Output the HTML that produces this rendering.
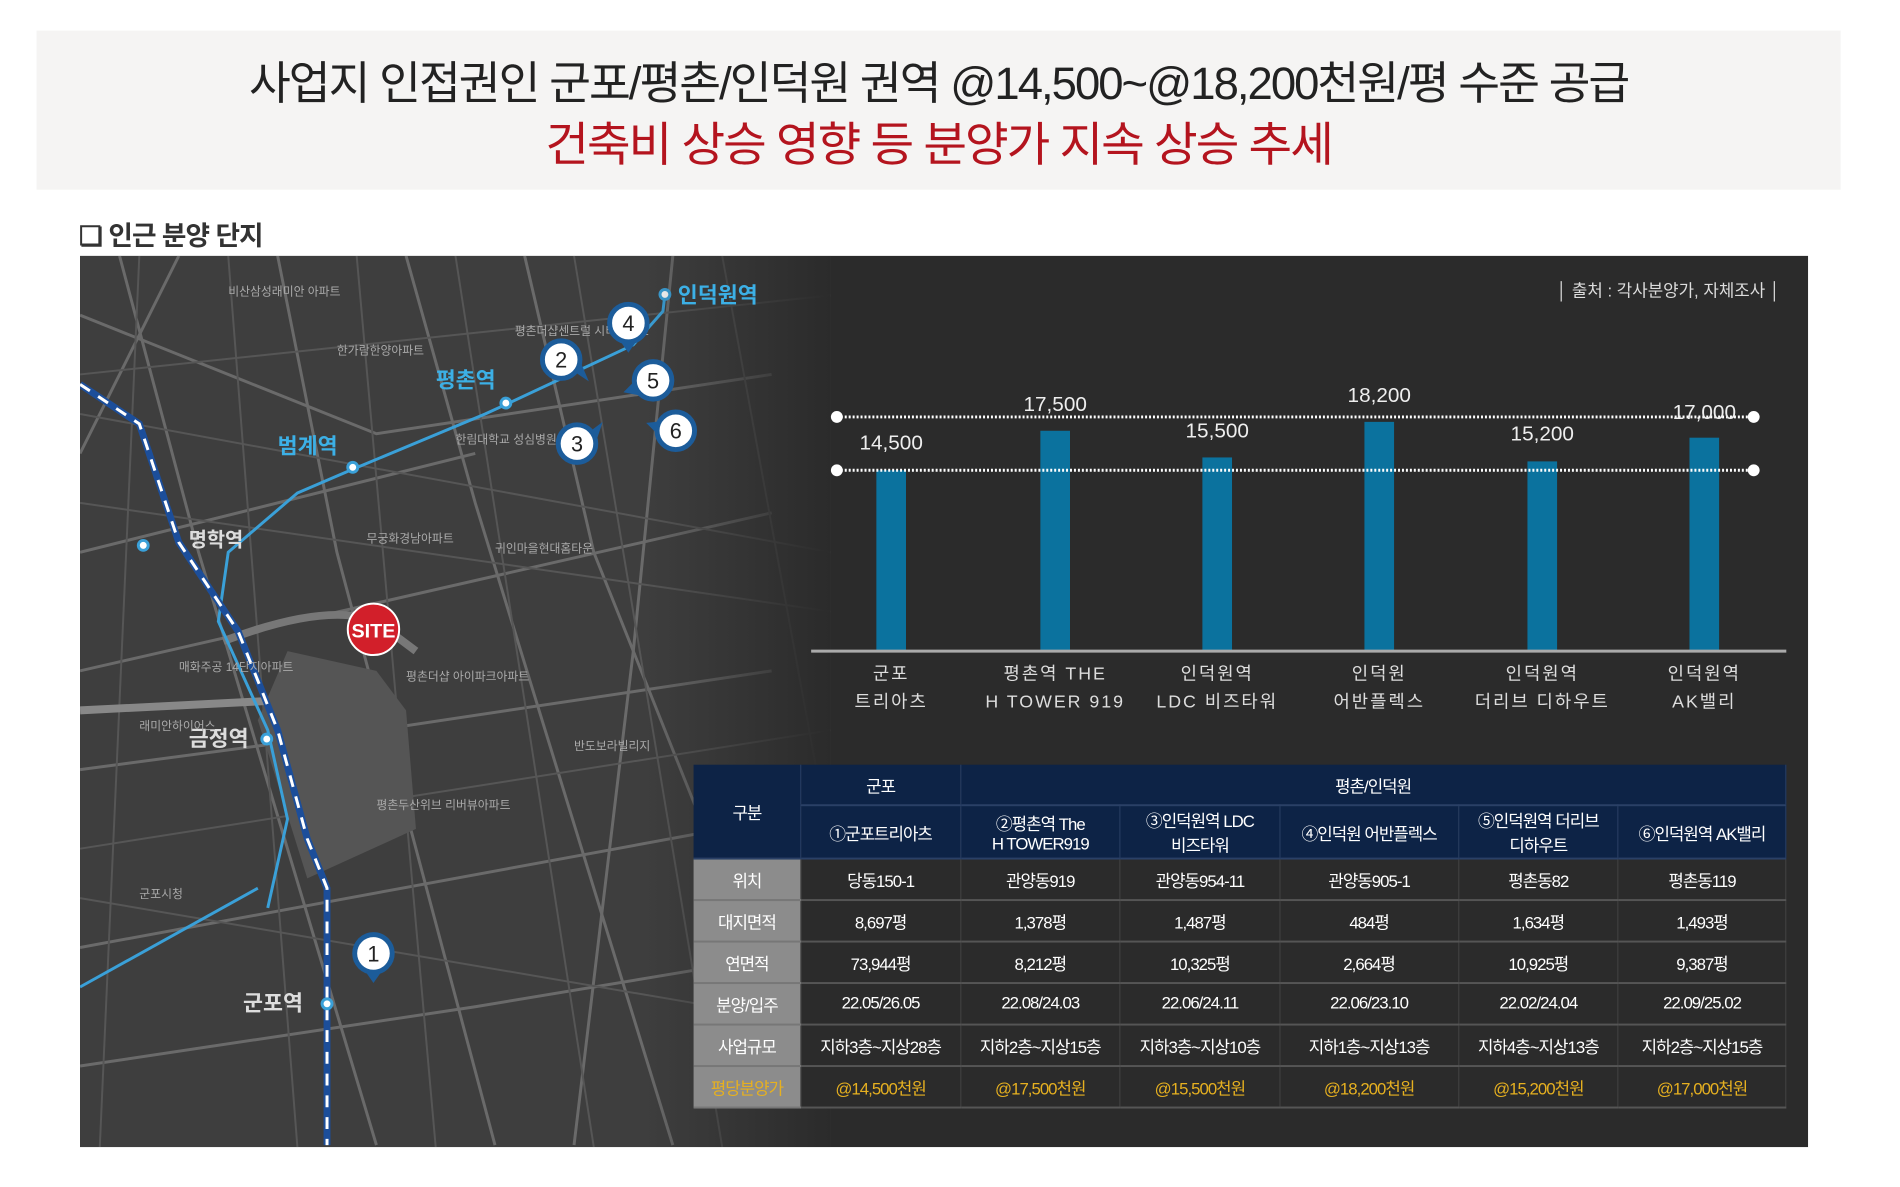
<!DOCTYPE html>
<html><head><meta charset="utf-8"><style>
body{margin:0;width:1900px;height:1187px;background:#fff;position:relative;overflow:hidden;font-family:"Liberation Sans","Noto Sans CJK KR",sans-serif}
#w{position:absolute;left:0;top:0;width:1900px;height:1187px;transform:scale(0.988);transform-origin:0 0}
.a{position:absolute}
.hdr{left:37px;top:31px;width:1826px;height:161px;background:#f5f4f3}
.t1{left:0;width:1900px;top:48px;text-align:center;font-size:46px;color:#222;letter-spacing:-2px}
.t2{left:0;width:1900px;top:107px;text-align:center;font-size:48px;color:#b4141e;letter-spacing:-2px}
.sub{left:80px;top:217px;font-size:27px;color:#333;font-weight:bold;letter-spacing:-1px}
.panel{left:81px;top:259px;width:1749px;height:902px;background:#2b2b2b;overflow:hidden}
table{position:absolute;left:702px;top:774px;width:1106px;border-collapse:collapse;font-size:17px;color:#fff;letter-spacing:-1px}
td{text-align:center;border-bottom:2px solid #555;border-right:1px solid #444;height:40px;padding:0;background:#2b2b2b}
td.h{background:#0d2346;border-bottom:2px solid #2a4066;border-right:1px solid #2a4066}
td.g{background:#8c8c8c;color:#fff;width:108px;border-bottom:2px solid #777}
td.y{color:#e6b020}
</style></head><body><div id="w">
<div class="a hdr"></div>
<div class="a t1">사업지 인접권인 군포/평촌/인덕원 권역 @14,500~@18,200천원/평 수준 공급</div>
<div class="a t2">건축비 상승 영향 등 분양가 지속 상승 추세</div>
<div class="a sub">❏ 인근 분양 단지</div>
<div class="a panel">
<svg width="760" height="902" style="position:absolute;left:0;top:0">
<defs><linearGradient id="f" x1="0" x2="1"><stop offset="0.75" stop-color="#2b2b2b" stop-opacity="0"/><stop offset="1" stop-color="#2b2b2b" stop-opacity="1"/></linearGradient></defs>
<rect width="760" height="902" fill="#3e3e3e"/>
<g stroke="#6a6a6a" stroke-width="3" fill="none">
<path d="M0 60 L300 180 L700 120"/><path d="M40 0 L120 300 L300 900"/><path d="M200 0 L260 300 L420 900"/><path d="M330 0 L400 250 L600 900"/>
<path d="M450 0 L520 300 L720 800"/><path d="M0 420 L700 260"/><path d="M0 520 L300 480 L700 420"/><path d="M0 700 L760 560"/>
<path d="M0 820 L400 760 L760 700"/><path d="M100 0 L0 200"/><path d="M600 0 L560 400 L500 900"/><path d="M0 300 L400 200"/>
</g>
<g stroke="#565656" stroke-width="2" fill="none">
<path d="M0 120 L760 40"/><path d="M0 160 L760 300"/><path d="M0 250 L760 360"/><path d="M0 600 L760 480"/><path d="M0 650 L760 780"/>
<path d="M150 0 L220 902"/><path d="M280 0 L360 902"/><path d="M380 0 L520 902"/><path d="M500 0 L650 902"/><path d="M650 0 L760 600"/><path d="M60 0 L20 902"/>
</g>
<path d="M0 460 L200 450 L260 430" stroke="#888" stroke-width="8" fill="none"/>
<path d="M145 390 Q250 350 300 370 L340 400" stroke="#777" stroke-width="8" fill="none"/>
<polygon points="210,400 300,420 330,460 340,580 230,630 180,470" fill="#555"/>
<path d="M592 39 L590 56 L560 90 L432 150 L410 160 L276 216 L220 240 L150 300 L140 370 L190 480 L210 570 L190 660" stroke="#3aa0d8" stroke-width="3" fill="none"/>
<path d="M0 740 L180 640" stroke="#3aa0d8" stroke-width="3" fill="none"/>
<path d="M0 130 L60 170 L100 290 L160 380 L200 480 L230 590 L250 640 L250 900" stroke="#1c4e9a" stroke-width="7" fill="none"/>
<path d="M0 130 L60 170 L100 290 L160 380 L200 480 L230 590 L250 640 L250 900" stroke="#fff" stroke-width="3" stroke-dasharray="12 10" fill="none"/>
<g fill="#fff" stroke="#3aa0d8" stroke-width="3"><circle cx="592" cy="39" r="5"/><circle cx="431" cy="149" r="5"/><circle cx="276" cy="214" r="5"/><circle cx="64" cy="293" r="5"/><circle cx="189" cy="489" r="5"/><circle cx="250" cy="757" r="5"/></g>
<rect x="0" y="0" width="760" height="902" fill="url(#f)"/>
<g font-family="Liberation Sans,Noto Sans CJK KR,sans-serif">
<text x="605" y="47" fill="#3cb0e6" font-size="22" font-weight="bold">인덕원역</text>
<text x="360" y="133" fill="#3cb0e6" font-size="22" font-weight="bold">평촌역</text>
<text x="200" y="200" fill="#3cb0e6" font-size="22" font-weight="bold">범계역</text>
<text x="110" y="294" fill="#ddd" font-size="20" font-weight="bold">명학역</text>
<text x="110" y="496" fill="#ddd" font-size="22" font-weight="bold">금정역</text>
<text x="165" y="764" fill="#ddd" font-size="22" font-weight="bold">군포역</text>
<g fill="#aaa" font-size="12"><text x="150" y="40">비산삼성래미안 아파트</text><text x="260" y="100">한가람한양아파트</text><text x="440" y="80">평촌더샵센트럴 시티아파트</text><text x="380" y="190">한림대학교 성심병원</text><text x="290" y="290">무궁화경남아파트</text><text x="420" y="300">귀인마을현대홈타운</text><text x="330" y="430">평촌더샵 아이파크아파트</text><text x="100" y="420">매화주공 14단지아파트</text><text x="60" y="480">래미안하이어스</text><text x="300" y="560">평촌두산위브 리버뷰아파트</text><text x="500" y="500">반도보라빌리지</text><text x="60" y="650">군포시청</text></g>
</g>
<g font-family="Liberation Sans,sans-serif" text-anchor="middle">
<path d="M297 403 l-12 -18 h24z" fill="#d21f2a"/><circle cx="297" cy="378" r="26" fill="#d21f2a" stroke="#fff" stroke-width="2"/><text x="297" y="386" fill="#fff" font-weight="bold" font-size="20">SITE</text>
</g>
<g font-family="Liberation Sans,sans-serif" font-size="22" text-anchor="middle" fill="#222">
<g transform="translate(297,706)"><path d="M-14 10 L0 30 L14 10z" fill="#1c5c9a"/><circle r="19" fill="#fff" stroke="#1c5c9a" stroke-width="5"/><text y="8">1</text></g>
<g transform="translate(487,105)"><path d="M10 10 L28 22 L16 -6z" fill="#1c5c9a"/><circle r="19" fill="#fff" stroke="#1c5c9a" stroke-width="5"/><text y="8">2</text></g>
<g transform="translate(503,190)"><path d="M10 -10 L26 -22 L16 8z" fill="#1c5c9a"/><circle r="19" fill="#fff" stroke="#1c5c9a" stroke-width="5"/><text y="8">3</text></g>
<g transform="translate(555,68)"><path d="M-14 10 L0 30 L14 10z" fill="#1c5c9a"/><circle r="19" fill="#fff" stroke="#1c5c9a" stroke-width="5"/><text y="8">4</text></g>
<g transform="translate(580,126)"><path d="M-10 -8 L-30 12 L0 18z" fill="#1c5c9a"/><circle r="19" fill="#fff" stroke="#1c5c9a" stroke-width="5"/><text y="8">5</text></g>
<g transform="translate(603,177)"><path d="M-10 -10 L-30 -8 L-8 14z" fill="#1c5c9a"/><circle r="19" fill="#fff" stroke="#1c5c9a" stroke-width="5"/><text y="8">6</text></g>
</g>
</svg>
</div>
<div class="a" style="left:1540px;top:280px;width:262px;text-align:right;font-size:17px;color:#ddd">│ 출처 : 각사분양가, 자체조사 │</div>
<svg class="a" style="left:0;top:0" width="1900" height="780">
<g fill="#0b729e"><rect x="887" y="476" width="30" height="182"/><rect x="1053" y="436" width="30" height="222"/><rect x="1217" y="463" width="30" height="195"/><rect x="1381" y="427" width="30" height="231"/><rect x="1546" y="467" width="30" height="191"/><rect x="1710" y="443" width="30" height="215"/></g>
<line x1="821" y1="659" x2="1808" y2="659" stroke="#aaa" stroke-width="3"/>
<g stroke="#fff" stroke-width="3" stroke-dasharray="2 2"><line x1="847" y1="422" x2="1775" y2="422"/><line x1="847" y1="476" x2="1775" y2="476"/></g>
<g fill="#fff"><circle cx="847" cy="422" r="6"/><circle cx="1775" cy="422" r="6"/><circle cx="847" cy="476" r="6"/><circle cx="1775" cy="476" r="6"/></g>
<g fill="#eee" font-size="21" text-anchor="middle" font-family="Liberation Sans,sans-serif"><text x="902" y="455">14,500</text><text x="1068" y="416">17,500</text><text x="1232" y="443">15,500</text><text x="1396" y="407">18,200</text><text x="1561" y="446">15,200</text><text x="1725" y="424">17,000</text></g>
<g fill="#ddd" font-size="18" text-anchor="middle" letter-spacing="2" font-family="Liberation Sans,Noto Sans CJK KR,sans-serif">
<text x="902" y="688">군포</text><text x="902" y="716">트리아츠</text>
<text x="1068" y="688">평촌역 THE</text><text x="1068" y="716">H TOWER 919</text>
<text x="1232" y="688">인덕원역</text><text x="1232" y="716">LDC 비즈타워</text>
<text x="1396" y="688">인덕원</text><text x="1396" y="716">어반플렉스</text>
<text x="1561" y="688">인덕원역</text><text x="1561" y="716">더리브 디하우트</text>
<text x="1725" y="688">인덕원역</text><text x="1725" y="716">AK밸리</text></g>
</svg>
<table>
<tr><td class="h" rowspan="2" style="width:108px">구분</td><td class="h">군포</td><td class="h" colspan="5">평촌/인덕원</td></tr>
<tr style="height:54px"><td class="h">①군포트리아츠</td><td class="h">②평촌역 The<br>H TOWER919</td><td class="h">③인덕원역 LDC<br>비즈타워</td><td class="h">④인덕원 어반플렉스</td><td class="h">⑤인덕원역 더리브<br>디하우트</td><td class="h">⑥인덕원역 AK밸리</td></tr>
<tr><td class="g">위치</td><td>당동150-1</td><td>관양동919</td><td>관양동954-11</td><td>관양동905-1</td><td>평촌동82</td><td>평촌동119</td></tr>
<tr><td class="g">대지면적</td><td>8,697평</td><td>1,378평</td><td>1,487평</td><td>484평</td><td>1,634평</td><td>1,493평</td></tr>
<tr><td class="g">연면적</td><td>73,944평</td><td>8,212평</td><td>10,325평</td><td>2,664평</td><td>10,925평</td><td>9,387평</td></tr>
<tr><td class="g">분양/입주</td><td>22.05/26.05</td><td>22.08/24.03</td><td>22.06/24.11</td><td>22.06/23.10</td><td>22.02/24.04</td><td>22.09/25.02</td></tr>
<tr><td class="g">사업규모</td><td>지하3층~지상28층</td><td>지하2층~지상15층</td><td>지하3층~지상10층</td><td>지하1층~지상13층</td><td>지하4층~지상13층</td><td>지하2층~지상15층</td></tr>
<tr><td class="g" style="color:#e6b020">평당분양가</td><td class="y">@14,500천원</td><td class="y">@17,500천원</td><td class="y">@15,500천원</td><td class="y">@18,200천원</td><td class="y">@15,200천원</td><td class="y">@17,000천원</td></tr>
</table>
</div></body></html>
